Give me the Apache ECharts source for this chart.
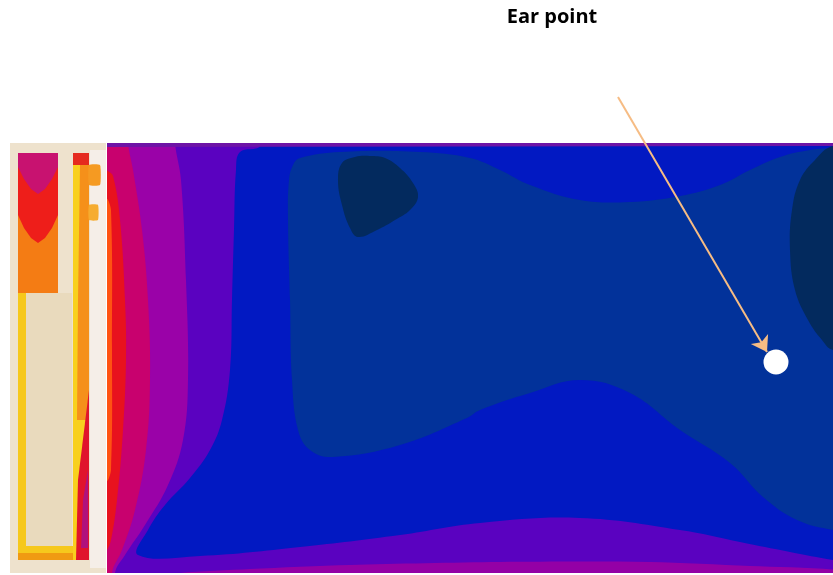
<!DOCTYPE html>
<html>
<head>
<meta charset="utf-8">
<title>Ear point</title>
<script src="https://cdn.jsdelivr.net/npm/echarts@6/dist/echarts.min.js"></script>
<style>
  html, body { margin: 0; padding: 0; background: #fff; }
  #chart { width: 833px; height: 575px; }
</style>
</head>
<body>
<div id="chart"></div>
<script>
// contour bands of the field, outline points in domain units (x right, y down)
var mainBase = [[10.0, 14.3], [84, 14.3], [84, 57.3], [10.0, 57.3]];
var redLens = [[10.0, 16.0], [10.7, 17.0], [11.3, 17.6], [12.0, 22.0], [12.5, 30.0], [12.6, 36.0], [12.3, 43.0], [11.7, 50.0], [11.1, 54.0], [10.7, 55.0], [10.0, 56.0]];
var edgeOrange = [[10.7, 20.0], [11.1, 21.0], [11.2, 35.0], [11.1, 47.0], [10.7, 48.0]];
var magentaZone = [[12.8, 12.0], [12.8, 14.3], [13.3, 17.0], [14.2, 23.0], [14.8, 30.0], [15.0, 38.0], [14.6, 45.0], [13.5, 51.0], [12.2, 55.0], [11.2, 57.3], [11.0, 62], [90, 62], [90, 12]];
var purpleZone = [[17.5, 12], [17.5, 14.3], [18.1, 18.0], [18.6, 28.0], [18.8, 38.0], [18.3, 44.0], [16.8, 48.5], [14.5, 52.5], [12.5, 55.5], [11.5, 57.3], [11.3, 62], [90, 62], [90, 12]];
var bottomMagenta = [[18, 57.3], [25, 56.9], [35, 56.5], [50, 56.2], [65, 56.2], [75, 56.6], [84, 57.0], [84, 57.5], [18, 57.5]];
var blueZone = [[26, 12], [26, 14.6], [24, 15.2], [23.6, 17.0], [23.4, 23.0], [23.2, 30.0], [23.0, 37.0], [22.2, 42.0], [21.0, 45.0], [19.0, 47.8], [16.5, 50.5], [14.8, 53.0], [13.8, 55.5], [20, 55.6], [30, 54.7], [40, 53.5], [48, 52.3], [58, 51.8], [68, 53.0], [74, 54.2], [79, 55.2], [83.3, 56.0], [90, 57], [90, 12]];
var darkZone = [[30, 15.8], [34, 15.2], [42, 15.2], [47, 15.8], [50, 17.0], [53, 18.5], [58, 20.0], [63, 20.2], [68, 19.6], [72, 18.5], [75, 17.0], [78, 15.7], [81, 15.0], [83.3, 14.8], [90, 14.6], [90, 54], [83.3, 53.0], [79.7, 52.0], [76.3, 49.7], [73, 46.3], [68, 43.0], [63, 39.3], [58, 38.0], [53, 39.3], [48, 41.0], [46.7, 41.8], [40, 44.5], [33.3, 45.7], [31, 45.0], [29.8, 43.0], [29.2, 38.0], [29.0, 30.0], [28.8, 22.0], [28.9, 18.0], [29.3, 16.5]];
var navyTop = [[34.2, 16.3], [35.5, 15.7], [37, 15.6], [38.5, 15.8], [40, 16.8], [41.3, 18.3], [41.8, 19.7], [41, 21.0], [39.5, 22.0], [37.7, 23.0], [35.8, 23.7], [35, 22.8], [34.2, 20.5], [33.8, 18.0]];
var navyRight = [[83.3, 14.6], [81.5, 16.0], [80, 18.0], [79.2, 21], [79.0, 25], [79.5, 29], [80.8, 32], [82.2, 34], [83.3, 35], [90, 36], [90, 14]];
var topEdge = [[10.7, 14.3], [84, 14.3], [84, 14.6], [10.7, 14.7]];

// white surround
var coverTop = [[0, 0], [84, 0], [84, 14.3], [0, 14.3]];
var coverBottom = [[0, 57.3], [84, 57.3], [84, 58], [0, 58]];
var coverLeft = [[0, 0], [10.7, 0], [10.7, 58], [0, 58]];

// left frame (tank and wall)
var frame = [[1.0, 14.3], [10.6, 14.3], [10.6, 57.3], [1.0, 57.3]];
var frameGap = [[9.0, 15.0], [10.6, 15.0], [10.6, 56.8], [9.0, 56.8]];
var tankOrange = [[1.8, 15.3], [5.8, 15.3], [5.8, 29.3], [1.8, 29.3]];
var tankRed = [[1.8, 15.3], [5.8, 15.3], [5.8, 21.5], [5.2, 22.8], [4.5, 23.8], [3.8, 24.3], [3.1, 23.8], [2.4, 22.8], [1.8, 21.5]];
var tankCrimson = [[1.8, 15.3], [5.8, 15.3], [5.8, 16.7], [5.2, 17.9], [4.5, 18.9], [3.8, 19.4], [3.1, 18.9], [2.4, 17.9], [1.8, 16.7]];
var yellowL = [[1.8, 29.3], [2.6, 29.3], [2.6, 54.6], [8.9, 54.6], [8.9, 56.0], [1.8, 56.0]];
var bottomOrange = [[1.8, 55.3], [8.9, 55.3], [8.9, 56.0], [1.8, 56.0]];
var innerBeige = [[2.6, 29.3], [7.2, 29.3], [7.2, 54.6], [2.6, 54.6]];
var strip2 = [[7.3, 15.3], [8.9, 15.3], [8.9, 56.0], [7.3, 56.0]];
var strip2Orange = [[8.0, 16.5], [8.9, 16.5], [8.9, 42], [7.7, 42], [7.8, 30]];
var strip2Top = [[7.3, 15.3], [8.9, 15.3], [8.9, 16.5], [7.3, 16.5]];
var strip2Red = [[8.9, 39], [8.9, 56.0], [7.6, 56.0], [7.8, 48]];
var strip2Crimson = [[8.8, 47], [8.8, 54.8], [8.1, 54.8], [8.3, 50]];
var blobA = [[8.9, 16.5], [10.0, 16.5], [10.0, 18.5], [8.9, 18.5]];
var blobB = [[8.9, 20.5], [9.8, 20.5], [9.8, 22.0], [8.9, 22.0]];

// annotation
var arrowLine = [[61.8, 9.7], [76.7, 35.2]];
var earPoint = [77.6, 36.2];

// [outline, colour, smoothing] in paint order
var layers = [
    [mainBase, '#C8016E', 0],
    [redLens, '#E8121E', 0.4],
    [edgeOrange, '#FF5212', 0.4],
    [magentaZone, '#9A02A8', 0.4],
    [purpleZone, '#5A02C0', 0.4],
    [bottomMagenta, '#9400A6', 0.3],
    [blueZone, '#0219C2', 0.4],
    [darkZone, '#02329A', 0.4],
    [navyTop, '#032A5E', 0.4],
    [navyRight, '#032A5E', 0.4],
    [coverTop, '#ffffff', 0],
    [coverBottom, '#ffffff', 0],
    [coverLeft, '#ffffff', 0],
    [topEdge, '#6E14A6', 0],
    [frame, '#EEE2CD', 0],
    [frameGap, '#F5EEE8', 0],
    [tankOrange, '#F47C14', 0],
    [tankRed, '#EE1E1A', 0],
    [tankCrimson, '#C81270', 0],
    [yellowL, '#F6C81C', 0],
    [bottomOrange, '#F09A12', 0],
    [innerBeige, '#E9DABD', 0],
    [strip2, '#F8D01E', 0],
    [strip2Orange, '#F5901A', 0],
    [strip2Top, '#E52A1E', 0],
    [strip2Red, '#E0142C', 0],
    [strip2Crimson, '#B0127C', 0],
    [blobA, '#F59A22', 0.15],
    [blobB, '#F6AC30', 0.15]
];

var myChart = echarts.init(document.getElementById('chart'));
var option = {
    animation: false,
    backgroundColor: '#ffffff',
    grid: { left: 0, right: 0, top: 0, bottom: 0 },
    xAxis: { type: 'value', min: 0, max: 83.3, show: false },
    yAxis: { type: 'value', min: 0, max: 57.5, inverse: true, show: false },
    graphic: [{
        type: 'text',
        x: 552,
        y: 17,
        z: 100,
        style: {
            text: 'Ear point',
            fontFamily: 'Open Sans',
            fontWeight: 'bold',
            fontSize: 20,
            fill: '#000',
            textAlign: 'center',
            textVerticalAlign: 'middle'
        }
    }],
    series: [
        {
            type: 'custom',
            clip: true,
            data: layers.map(function (l, i) { return [i, 0]; }),
            renderItem: function (params, api) {
                var layer = layers[params.dataIndex];
                var pts = layer[0].map(function (p) { return api.coord(p); });
                return {
                    type: 'polygon',
                    shape: { points: pts, smooth: layer[2] },
                    style: { fill: layer[1] }
                };
            }
        },
        {
            type: 'lines',
            coordinateSystem: 'cartesian2d',
            z: 5,
            symbol: ['none', 'arrow'],
            symbolSize: 15,
            lineStyle: { color: '#F6BC84', width: 2, opacity: 1, curveness: 0 },
            data: [{ coords: arrowLine }]
        },
        {
            type: 'scatter',
            z: 6,
            symbolSize: 25,
            itemStyle: { color: '#ffffff', opacity: 1 },
            data: [earPoint]
        }
    ]
};
myChart.setOption(option);
</script>
</body>
</html>
